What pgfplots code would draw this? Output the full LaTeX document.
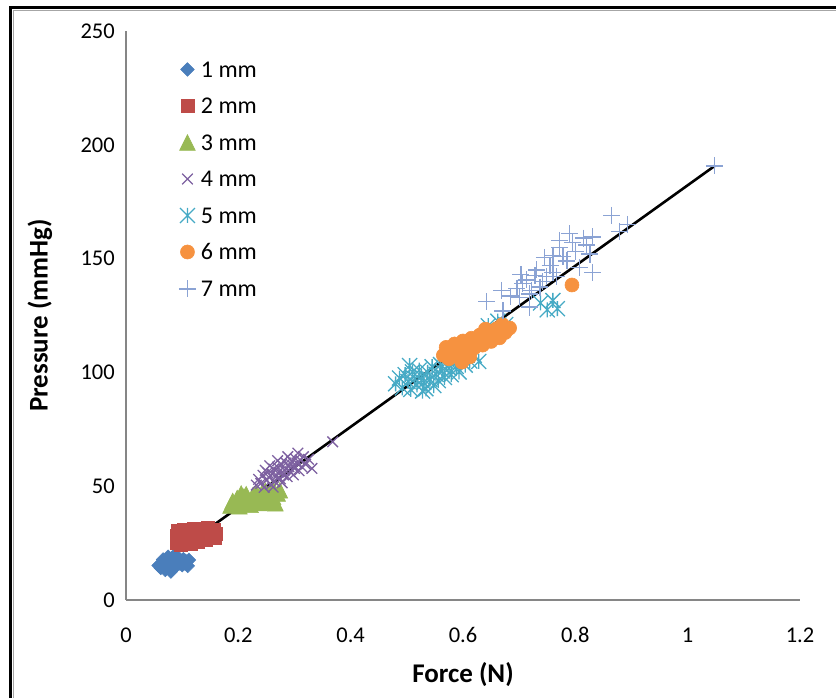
\documentclass[border=0pt]{standalone}
\usepackage{fontspec}
\setmainfont{Carlito}
\usepackage{pgfplots}
\pgfplotsset{compat=1.18}

\definecolor{sA}{HTML}{4A7EBB}
\definecolor{sB}{HTML}{BE4B48}
\definecolor{sC}{HTML}{98B954}
\definecolor{sD}{HTML}{7D60A0}
\definecolor{sE}{HTML}{46AAC5}
\definecolor{sF}{HTML}{F69240}
\definecolor{sG}{HTML}{8BA3D4}
\definecolor{axisgray}{HTML}{868686}

% square-shaped diamond, equal width and height
\pgfdeclareplotmark{sqdiamond}{%
  \pgfpathmoveto{\pgfqpoint{0pt}{\pgfplotmarksize}}%
  \pgfpathlineto{\pgfqpoint{\pgfplotmarksize}{0pt}}%
  \pgfpathlineto{\pgfqpoint{0pt}{-\pgfplotmarksize}}%
  \pgfpathlineto{\pgfqpoint{-\pgfplotmarksize}{0pt}}%
  \pgfpathclose\pgfusepathqfillstroke}
% upright triangle as wide as it is tall
\pgfdeclareplotmark{uptri}{%
  \pgfpathmoveto{\pgfqpoint{0pt}{\pgfplotmarksize}}%
  \pgfpathlineto{\pgfqpoint{\pgfplotmarksize}{-\pgfplotmarksize}}%
  \pgfpathlineto{\pgfqpoint{-\pgfplotmarksize}{-\pgfplotmarksize}}%
  \pgfpathclose\pgfusepathqfillstroke}
% cross with a vertical bar
\pgfdeclareplotmark{xstar}{%
  \pgfpathmoveto{\pgfqpoint{-\pgfplotmarksize}{-\pgfplotmarksize}}%
  \pgfpathlineto{\pgfqpoint{\pgfplotmarksize}{\pgfplotmarksize}}%
  \pgfpathmoveto{\pgfqpoint{-\pgfplotmarksize}{\pgfplotmarksize}}%
  \pgfpathlineto{\pgfqpoint{\pgfplotmarksize}{-\pgfplotmarksize}}%
  \pgfpathmoveto{\pgfqpoint{0pt}{-\pgfplotmarksize}}%
  \pgfpathlineto{\pgfqpoint{0pt}{\pgfplotmarksize}}%
  \pgfusepathqstroke}

\begin{document}
\begin{tikzpicture}
\path[use as bounding box] (-126pt,-98pt) rectangle (710pt,600pt);
% outer frame
\draw[line width=3pt, black] (-115pt,-98pt) -- (-115pt,592pt) -- (710pt,592pt);
\draw[line width=0.8pt, black!35] (-113pt,-98pt) -- (-113pt,590pt) -- (710pt,590pt);
\begin{axis}[
  at={(0pt,0pt)}, anchor=south west,
  scale only axis, width=674pt, height=569pt,
  xmin=0, xmax=1.2, ymin=0, ymax=250,
  axis lines=left,
  axis line style={-, draw=axisgray, line width=1.2pt},
  xtick={0,0.2,0.4,0.6,0.8,1,1.2},
  xticklabels={0,0.2,0.4,0.6,0.8,1,1.2},
  ytick={0,50,100,150,200,250},
  major tick length=0pt,
  /pgf/number format/assume math mode=true,
  tick label style={font=\fontsize{22.5}{26}\selectfont, text=black, inner sep=0pt},
  xticklabel style={anchor=center, yshift=-35pt},
  yticklabel style={anchor=east, xshift=-11pt},
  xlabel={\textbf{Force (N)}},
  ylabel={\textbf{Pressure (mmHg)}},
  label style={font=\fontsize{27}{30}\selectfont},
  xlabel style={at={(axis description cs:0.5,-0.1318)}, anchor=center},
  ylabel style={at={(axis description cs:-0.1276,0.5)}, anchor=center},
  clip=false,
  legend style={draw=none, fill=none, inner sep=0pt, outer sep=0pt,
    at={(axis description cs:0.0786,0.9464)}, anchor=north west,
    font=\fontsize{24}{28}\selectfont, row sep=20.5pt, column sep=5pt,
    nodes={inner sep=0pt, text height=16pt, text depth=0pt}},
  legend cell align=left,
  legend image code/.code={\draw[#1] plot coordinates {(0pt,0pt)};},
]
% 1 mm
\addplot[only marks, mark=sqdiamond, mark size=6.8pt, draw=sA, fill=sA, line width=0.6pt]
coordinates {(0.058,15.2)(0.062,14.1)(0.065,16.3)(0.068,15.0)(0.070,13.2)(0.072,17.5)
(0.074,15.8)(0.076,14.4)(0.078,16.9)(0.080,13.6)(0.082,18.4)(0.084,15.5)(0.086,17.0)
(0.088,14.8)(0.090,16.2)(0.092,18.9)(0.094,15.9)(0.096,17.4)(0.098,16.6)(0.100,15.3)
(0.102,17.9)(0.104,16.1)(0.106,17.2)(0.108,16.8)(0.075,19.0)(0.085,19.3)(0.066,17.8)
(0.080,12.5)(0.110,15.0)(0.112,17.6)};
\addlegendentry{1 mm}
% 2 mm
\addplot[only marks, mark=square*, mark size=6.6pt, draw=sB, fill=sB, line width=0.6pt]
coordinates {(0.090,25.0)(0.091,28.0)(0.093,30.5)(0.095,26.5)(0.097,24.2)(0.099,29.2)
(0.101,27.1)(0.103,31.0)(0.105,25.5)(0.107,28.6)(0.109,26.2)(0.111,30.1)(0.113,27.5)
(0.115,24.8)(0.117,29.0)(0.119,26.8)(0.121,31.2)(0.124,28.2)(0.127,25.6)(0.130,29.6)
(0.133,27.3)(0.136,30.6)(0.139,28.7)(0.142,26.6)(0.145,31.5)(0.148,29.4)(0.151,30.2)
(0.154,28.3)(0.157,31.0)(0.160,29.1)(0.158,27.2)};
\addlegendentry{2 mm}
% 3 mm
\addplot[only marks, mark=uptri, mark size=7.8pt, draw=sC, fill=sC, line width=0.6pt]
coordinates {(0.186,41.5)(0.190,43.5)(0.194,42.0)(0.198,44.8)(0.202,41.2)(0.206,43.0)
(0.210,45.5)(0.214,42.4)(0.218,44.2)(0.222,41.8)(0.226,46.0)(0.230,43.6)(0.234,45.0)
(0.238,42.6)(0.242,47.0)(0.246,44.5)(0.250,46.2)(0.254,43.2)(0.258,47.8)(0.262,45.3)
(0.266,42.5)(0.270,46.8)(0.274,48.2)(0.262,48.6)(0.248,48.0)(0.232,47.2)(0.214,46.5)
(0.205,46.8)};
\addlegendentry{3 mm}
% 4 mm
\addplot[only marks, mark=x, mark size=7.5pt, draw=sD, line width=1.3pt]
coordinates {(0.232,50.5)(0.236,53.0)(0.240,51.2)(0.244,54.8)(0.246,49.5)(0.250,52.6)
(0.252,56.0)(0.255,53.8)(0.258,50.8)(0.260,55.5)(0.263,57.6)(0.265,52.0)(0.268,54.5)
(0.270,58.4)(0.272,56.2)(0.275,53.2)(0.277,59.5)(0.280,55.0)(0.282,57.2)(0.285,60.2)
(0.287,54.2)(0.290,58.6)(0.292,56.4)(0.295,61.0)(0.297,59.0)(0.300,57.8)(0.302,62.0)
(0.305,60.0)(0.308,56.8)(0.310,61.5)(0.313,58.5)(0.316,63.0)(0.320,59.6)(0.325,61.8)
(0.331,57.8)(0.368,69.5)(0.248,57.0)(0.262,49.6)(0.278,51.5)(0.298,55.0)(0.256,59.0)
(0.270,61.2)(0.288,63.0)(0.306,64.5)};
\addlegendentry{4 mm}
% 5 mm
\addplot[only marks, mark=xstar, mark size=7.5pt, draw=sE, line width=1.3pt]
coordinates {(0.480,95.0)(0.487,97.5)(0.492,93.2)(0.497,99.0)(0.502,96.0)(0.507,92.5)
(0.510,100.2)(0.514,97.2)(0.518,94.5)(0.522,101.0)(0.526,98.2)(0.530,95.6)(0.534,92.8)
(0.537,100.0)(0.541,97.0)(0.545,102.5)(0.548,94.2)(0.552,99.2)(0.556,96.4)(0.560,103.4)
(0.563,100.6)(0.567,97.8)(0.571,104.5)(0.575,101.8)(0.579,99.0)(0.583,105.6)(0.588,102.6)
(0.593,100.2)(0.598,106.4)(0.604,103.2)(0.612,105.0)(0.620,107.5)(0.628,104.8)
(0.645,120.5)(0.662,122.5)(0.676,121.0)(0.738,130.5)(0.750,127.5)(0.760,131.6)
(0.768,128.0)(0.528,91.8)(0.505,103.0)};
\addlegendentry{5 mm}
% 6 mm
\addplot[only marks, mark=*, mark size=7pt, draw=sF, fill=sF, line width=0.6pt]
coordinates {(0.565,107.5)(0.570,111.0)(0.575,106.0)(0.580,109.2)(0.585,112.5)(0.590,108.0)
(0.595,110.6)(0.600,113.8)(0.605,109.5)(0.610,112.2)(0.615,115.0)(0.620,110.8)(0.625,113.5)
(0.630,116.4)(0.635,112.0)(0.640,115.0)(0.645,117.6)(0.650,113.6)(0.655,116.6)(0.660,119.2)
(0.665,115.2)(0.670,121.0)(0.675,117.5)(0.683,119.5)(0.794,138.4)(0.598,104.5)(0.612,106.8)
(0.640,119.0)};
\addlegendentry{6 mm}
% 7 mm
\addplot[only marks, mark=+, mark size=8.5pt, draw=sG, line width=1.3pt]
coordinates {(0.642,131.0)(0.669,136.0)(0.671,127.0)(0.684,133.5)(0.696,137.0)(0.701,133.0)
(0.706,139.0)(0.713,140.6)(0.719,128.7)(0.722,136.0)(0.728,142.5)(0.731,145.0)(0.737,137.5)
(0.742,140.0)(0.749,142.0)(0.755,147.0)(0.760,144.0)(0.767,142.0)(0.772,155.0)(0.772,158.0)
(0.778,151.0)(0.785,149.0)(0.790,161.0)(0.795,157.0)(0.800,153.0)(0.808,146.0)(0.815,159.0)
(0.820,156.0)(0.826,152.0)(0.831,159.5)(0.831,144.0)(0.865,169.0)(0.879,162.0)(0.893,165.0)
(1.048,190.7)(0.703,143.0)(0.718,134.5)(0.745,150.5)(0.760,151.5)};
\addlegendentry{7 mm}
% linear fit over all series
\addplot[black, line width=2.6pt, forget plot] coordinates {(0.057,15.4) (1.048,190.7)};
\end{axis}
\end{tikzpicture}
\end{document}
